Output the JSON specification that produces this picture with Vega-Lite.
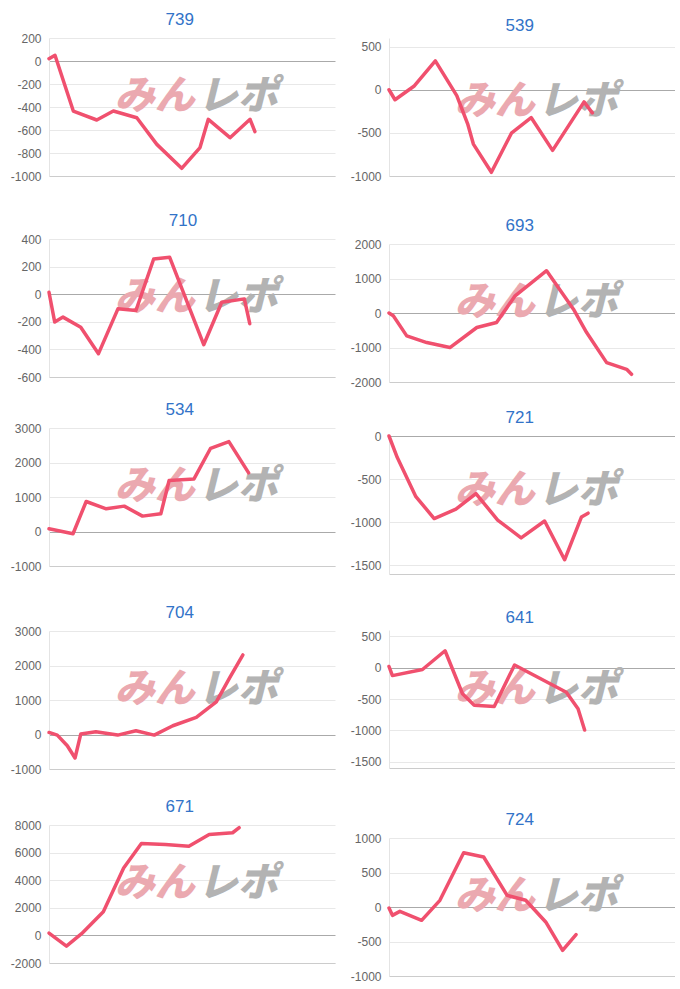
{
  "$schema": "https://vega.github.io/schema/vega-lite/v6.json",
  "padding": {"left": 10, "top": 11, "right": 0, "bottom": 0},
  "background": "white",
  "config": {
    "view": {"stroke": null},
    "font": "Liberation Sans",
    "title": {"fontSize": 17, "fontWeight": "normal", "color": "#3273c8", "font": "Liberation Sans", "offset": 3, "anchor": "middle", "frame": "bounds", "dx": 7},
    "axisY": {"labelFontSize": 12, "labelColor": "#666666", "labelFont": "Liberation Sans", "labelPadding": 8, "labelOverlap": false, "labelExpr": "'' + datum.value", "ticks": false, "domainColor": "#e4e4e4", "grid": true, "tickCount": 20, "title": null},
    "axisX": {"labels": false, "ticks": false, "grid": false, "domainColor": "#cccccc", "title": null},
    "line": {"color": "#f0506e", "strokeWidth": 3.5, "strokeCap": "round", "strokeJoin": "round"},
    "text": {"font": "Noto Sans CJK JP", "fontSize": 40, "fontWeight": 900, "fontStyle": "italic", "baseline": "middle"}
  },
  "datasets": {
    "p739": [{"x":0,"v":20},{"x":2.1,"v":50},{"x":8.5,"v":-435},{"x":16.7,"v":-513},{"x":22.5,"v":-435},{"x":30.7,"v":-493},{"x":37.7,"v":-725},{"x":46.4,"v":-933},{"x":52.8,"v":-753},{"x":55.7,"v":-507},{"x":63.3,"v":-667},{"x":70.3,"v":-507},{"x":72.0,"v":-614}],
    "p539": [{"x":0,"v":0},{"x":2.1,"v":-116},{"x":8.7,"v":40},{"x":16.2,"v":335},{"x":23.7,"v":-69},{"x":27.5,"v":-395},{"x":29.5,"v":-630},{"x":35.8,"v":-957},{"x":42.8,"v":-504},{"x":49.7,"v":-322},{"x":57.2,"v":-703},{"x":68.2,"v":-141},{"x":71.1,"v":-268}],
    "p710": [{"x":0,"v":14},{"x":2.0,"v":-202},{"x":4.9,"v":-166},{"x":11.1,"v":-239},{"x":17.3,"v":-431},{"x":24.1,"v":-106},{"x":30.4,"v":-118},{"x":36.6,"v":255},{"x":42.2,"v":267},{"x":54.1,"v":-366},{"x":60.4,"v":-58},{"x":68.3,"v":-34},{"x":70.2,"v":-214}],
    "p693": [{"x":0,"v":0},{"x":1.5,"v":-82},{"x":6.2,"v":-663},{"x":13.2,"v":-857},{"x":21.3,"v":-1002},{"x":30.7,"v":-421},{"x":37.6,"v":-276},{"x":44.1,"v":499},{"x":55.1,"v":1225},{"x":64.5,"v":111},{"x":69.1,"v":-567},{"x":76.1,"v":-1438},{"x":83.1,"v":-1632},{"x":84.8,"v":-1777}],
    "p534": [{"x":0,"v":80},{"x":8.4,"v":-65},{"x":13.0,"v":870},{"x":20.0,"v":658},{"x":26.3,"v":735},{"x":32.7,"v":446},{"x":39.1,"v":513},{"x":42.0,"v":1477},{"x":50.7,"v":1525},{"x":56.5,"v":2412},{"x":62.9,"v":2605},{"x":69.8,"v":1699}],
    "p721": [{"x":0,"v":0},{"x":2.9,"v":-250},{"x":9.4,"v":-703},{"x":15.8,"v":-957},{"x":23.4,"v":-848},{"x":30.4,"v":-667},{"x":38.0,"v":-975},{"x":46.2,"v":-1181},{"x":54.4,"v":-986},{"x":61.4,"v":-1435},{"x":67.3,"v":-938},{"x":69.6,"v":-895}],
    "p704": [{"x":0,"v":60},{"x":2.9,"v":-17},{"x":6.4,"v":-325},{"x":9.1,"v":-682},{"x":11.1,"v":12},{"x":16.4,"v":80},{"x":24.0,"v":-17},{"x":30.4,"v":108},{"x":36.8,"v":-17},{"x":43.3,"v":253},{"x":51.5,"v":494},{"x":58.5,"v":947},{"x":63.2,"v":1651},{"x":67.8,"v":2306}],
    "p641": [{"x":0,"v":18},{"x":1.2,"v":-127},{"x":11.7,"v":-30},{"x":19.6,"v":269},{"x":25.7,"v":-416},{"x":29.8,"v":-599},{"x":36.8,"v":-618},{"x":43.9,"v":42},{"x":62.0,"v":-392},{"x":66.1,"v":-657},{"x":68.4,"v":-994}],
    "p671": [{"x":0,"v":171},{"x":6.1,"v":-780},{"x":11.4,"v":122},{"x":19.0,"v":1707},{"x":26.1,"v":4878},{"x":32.3,"v":6659},{"x":40.7,"v":6585},{"x":48.9,"v":6463},{"x":56.0,"v":7317},{"x":64.2,"v":7439},{"x":66.5,"v":7805}],
    "p724": [{"x":0,"v":-14},{"x":1.2,"v":-121},{"x":3.8,"v":-63},{"x":11.4,"v":-193},{"x":17.8,"v":97},{"x":26.1,"v":787},{"x":33.1,"v":725},{"x":41.3,"v":169},{"x":47.8,"v":97},{"x":54.8,"v":-217},{"x":60.7,"v":-628},{"x":65.4,"v":-401}],
    "one": [{}]
  },
  "spacing": 15,
  "align": "none",
  "hconcat": [
    {
      "spacing": 18,
      "vconcat": [
        {
          "title": {"text": "739"},
          "width": 286, "height": 138,
          "layer": [
            {"data": {"name": "one"}, "mark": {"type": "text", "text": "みん", "align": "right", "color": "#eba9b0"}, "encoding": {"x": {"datum": 51, "type": "quantitative"}, "y": {"datum": -314, "type": "quantitative"}}},
            {"data": {"name": "one"}, "mark": {"type": "text", "text": "レポ", "align": "left", "color": "#b3b3b3"}, "encoding": {"x": {"datum": 52, "type": "quantitative"}, "y": {"datum": -314, "type": "quantitative"}}},
            {"data": {"name": "p739"}, "mark": {"type": "line"}, "encoding": {
              "x": {"field": "x", "type": "quantitative", "scale": {"domain": [0, 100]}, "axis": {"minExtent": 18, "maxExtent": 18}},
              "y": {"field": "v", "type": "quantitative", "scale": {"domain": [-1000, 200]}, "axis": {"values": [-1000, -800, -600, -400, -200, 0, 200], "tickCount": 20, "gridColor": {"condition": {"test": "datum.value === 0", "value": "#aaaaaa"}, "value": "#e8e8e8"}}}}}
          ]
        },
        {
          "title": {"text": "710"},
          "width": 286, "height": 138,
          "layer": [
            {"data": {"name": "one"}, "mark": {"type": "text", "text": "みん", "align": "right", "color": "#eba9b0"}, "encoding": {"x": {"datum": 51, "type": "quantitative"}, "y": {"datum": -28, "type": "quantitative"}}},
            {"data": {"name": "one"}, "mark": {"type": "text", "text": "レポ", "align": "left", "color": "#b3b3b3"}, "encoding": {"x": {"datum": 52, "type": "quantitative"}, "y": {"datum": -28, "type": "quantitative"}}},
            {"data": {"name": "p710"}, "mark": {"type": "line"}, "encoding": {
              "x": {"field": "x", "type": "quantitative", "scale": {"domain": [0, 100]}, "axis": {"minExtent": 6, "maxExtent": 6}},
              "y": {"field": "v", "type": "quantitative", "scale": {"domain": [-600, 400]}, "axis": {"values": [-600, -400, -200, 0, 200, 400], "tickCount": 20, "gridColor": {"condition": {"test": "datum.value === 0", "value": "#aaaaaa"}, "value": "#e8e8e8"}}}}}
          ]
        },
        {
          "title": {"text": "534"},
          "width": 286, "height": 138,
          "layer": [
            {"data": {"name": "one"}, "mark": {"type": "text", "text": "みん", "align": "right", "color": "#eba9b0"}, "encoding": {"x": {"datum": 51, "type": "quantitative"}, "y": {"datum": 1288, "type": "quantitative"}}},
            {"data": {"name": "one"}, "mark": {"type": "text", "text": "レポ", "align": "left", "color": "#b3b3b3"}, "encoding": {"x": {"datum": 52, "type": "quantitative"}, "y": {"datum": 1288, "type": "quantitative"}}},
            {"data": {"name": "p534"}, "mark": {"type": "line"}, "encoding": {
              "x": {"field": "x", "type": "quantitative", "scale": {"domain": [0, 100]}, "axis": {"minExtent": 20, "maxExtent": 20}},
              "y": {"field": "v", "type": "quantitative", "scale": {"domain": [-1000, 3000]}, "axis": {"values": [-1000, 0, 1000, 2000, 3000], "tickCount": 20, "gridColor": {"condition": {"test": "datum.value === 0", "value": "#aaaaaa"}, "value": "#e8e8e8"}}}}}
          ]
        },
        {
          "title": {"text": "704"},
          "width": 286, "height": 138,
          "layer": [
            {"data": {"name": "one"}, "mark": {"type": "text", "text": "みん", "align": "right", "color": "#eba9b0"}, "encoding": {"x": {"datum": 51, "type": "quantitative"}, "y": {"datum": 1288, "type": "quantitative"}}},
            {"data": {"name": "one"}, "mark": {"type": "text", "text": "レポ", "align": "left", "color": "#b3b3b3"}, "encoding": {"x": {"datum": 52, "type": "quantitative"}, "y": {"datum": 1288, "type": "quantitative"}}},
            {"data": {"name": "p704"}, "mark": {"type": "line"}, "encoding": {
              "x": {"field": "x", "type": "quantitative", "scale": {"domain": [0, 100]}, "axis": {"minExtent": 11, "maxExtent": 11}},
              "y": {"field": "v", "type": "quantitative", "scale": {"domain": [-1000, 3000]}, "axis": {"values": [-1000, 0, 1000, 2000, 3000], "tickCount": 20, "gridColor": {"condition": {"test": "datum.value === 0", "value": "#aaaaaa"}, "value": "#e8e8e8"}}}}}
          ]
        },
        {
          "title": {"text": "671"},
          "width": 286, "height": 138,
          "layer": [
            {"data": {"name": "one"}, "mark": {"type": "text", "text": "みん", "align": "right", "color": "#eba9b0"}, "encoding": {"x": {"datum": 51, "type": "quantitative"}, "y": {"datum": 3720, "type": "quantitative"}}},
            {"data": {"name": "one"}, "mark": {"type": "text", "text": "レポ", "align": "left", "color": "#b3b3b3"}, "encoding": {"x": {"datum": 52, "type": "quantitative"}, "y": {"datum": 3720, "type": "quantitative"}}},
            {"data": {"name": "p671"}, "mark": {"type": "line"}, "encoding": {
              "x": {"field": "x", "type": "quantitative", "scale": {"domain": [0, 100]}, "axis": {"minExtent": 3, "maxExtent": 3}},
              "y": {"field": "v", "type": "quantitative", "scale": {"domain": [-2000, 8000]}, "axis": {"values": [-2000, 0, 2000, 4000, 6000, 8000], "tickCount": 20, "gridColor": {"condition": {"test": "datum.value === 0", "value": "#aaaaaa"}, "value": "#e8e8e8"}}}}}
          ]
        }
      ]
    },
    {
      "spacing": 20,
      "vconcat": [
        {
          "title": {"text": "539"},
          "width": 286, "height": 138,
          "layer": [
            {"data": {"name": "one"}, "mark": {"type": "text", "text": "みん", "align": "right", "color": "#eba9b0"}, "encoding": {"x": {"datum": 51, "type": "quantitative"}, "y": {"datum": -142, "type": "quantitative"}}},
            {"data": {"name": "one"}, "mark": {"type": "text", "text": "レポ", "align": "left", "color": "#b3b3b3"}, "encoding": {"x": {"datum": 52, "type": "quantitative"}, "y": {"datum": -142, "type": "quantitative"}}},
            {"data": {"name": "p539"}, "mark": {"type": "line"}, "encoding": {
              "x": {"field": "x", "type": "quantitative", "scale": {"domain": [0, 100]}, "axis": {"minExtent": 21, "maxExtent": 21}},
              "y": {"field": "v", "type": "quantitative", "scale": {"domain": [-1000, 500]}, "axis": {"values": [-1000, -500, 0, 500], "tickCount": 20, "gridColor": {"condition": {"test": "datum.value === 0", "value": "#aaaaaa"}, "value": "#e8e8e8"}}}}}
          ]
        },
        {
          "title": {"text": "693"},
          "width": 286, "height": 138,
          "layer": [
            {"data": {"name": "one"}, "mark": {"type": "text", "text": "みん", "align": "right", "color": "#eba9b0"}, "encoding": {"x": {"datum": 51, "type": "quantitative"}, "y": {"datum": 288, "type": "quantitative"}}},
            {"data": {"name": "one"}, "mark": {"type": "text", "text": "レポ", "align": "left", "color": "#b3b3b3"}, "encoding": {"x": {"datum": 52, "type": "quantitative"}, "y": {"datum": 288, "type": "quantitative"}}},
            {"data": {"name": "p693"}, "mark": {"type": "line"}, "encoding": {
              "x": {"field": "x", "type": "quantitative", "scale": {"domain": [0, 100]}, "axis": {"minExtent": 7, "maxExtent": 7}},
              "y": {"field": "v", "type": "quantitative", "scale": {"domain": [-2000, 2000]}, "axis": {"values": [-2000, -1000, 0, 1000, 2000], "tickCount": 20, "gridColor": {"condition": {"test": "datum.value === 0", "value": "#aaaaaa"}, "value": "#e8e8e8"}}}}}
          ]
        },
        {
          "title": {"text": "721"},
          "width": 286, "height": 138,
          "layer": [
            {"data": {"name": "one"}, "mark": {"type": "text", "text": "みん", "align": "right", "color": "#eba9b0"}, "encoding": {"x": {"datum": 51, "type": "quantitative"}, "y": {"datum": -642, "type": "quantitative"}}},
            {"data": {"name": "one"}, "mark": {"type": "text", "text": "レポ", "align": "left", "color": "#b3b3b3"}, "encoding": {"x": {"datum": 52, "type": "quantitative"}, "y": {"datum": -642, "type": "quantitative"}}},
            {"data": {"name": "p721"}, "mark": {"type": "line"}, "encoding": {
              "x": {"field": "x", "type": "quantitative", "scale": {"domain": [0, 100]}, "axis": {"minExtent": 15, "maxExtent": 15}},
              "y": {"field": "v", "type": "quantitative", "scale": {"domain": [-1500, 0]}, "axis": {"values": [-1500, -1000, -500, 0], "tickCount": 20, "gridColor": {"condition": {"test": "datum.value === 0", "value": "#aaaaaa"}, "value": "#e8e8e8"}}}}}
          ]
        },
        {
          "title": {"text": "641"},
          "width": 286, "height": 138,
          "layer": [
            {"data": {"name": "one"}, "mark": {"type": "text", "text": "みん", "align": "right", "color": "#eba9b0"}, "encoding": {"x": {"datum": 51, "type": "quantitative"}, "y": {"datum": -356, "type": "quantitative"}}},
            {"data": {"name": "one"}, "mark": {"type": "text", "text": "レポ", "align": "left", "color": "#b3b3b3"}, "encoding": {"x": {"datum": 52, "type": "quantitative"}, "y": {"datum": -356, "type": "quantitative"}}},
            {"data": {"name": "p641"}, "mark": {"type": "line"}, "encoding": {
              "x": {"field": "x", "type": "quantitative", "scale": {"domain": [0, 100]}, "axis": {"minExtent": 23, "maxExtent": 23}},
              "y": {"field": "v", "type": "quantitative", "scale": {"domain": [-1500, 500]}, "axis": {"values": [-1500, -1000, -500, 0, 500], "tickCount": 20, "gridColor": {"condition": {"test": "datum.value === 0", "value": "#aaaaaa"}, "value": "#e8e8e8"}}}}}
          ]
        },
        {
          "title": {"text": "724"},
          "width": 286, "height": 138,
          "layer": [
            {"data": {"name": "one"}, "mark": {"type": "text", "text": "みん", "align": "right", "color": "#eba9b0"}, "encoding": {"x": {"datum": 51, "type": "quantitative"}, "y": {"datum": 144, "type": "quantitative"}}},
            {"data": {"name": "one"}, "mark": {"type": "text", "text": "レポ", "align": "left", "color": "#b3b3b3"}, "encoding": {"x": {"datum": 52, "type": "quantitative"}, "y": {"datum": 144, "type": "quantitative"}}},
            {"data": {"name": "p724"}, "mark": {"type": "line"}, "encoding": {
              "x": {"field": "x", "type": "quantitative", "scale": {"domain": [0, 100]}, "axis": {"minExtent": 3, "maxExtent": 3}},
              "y": {"field": "v", "type": "quantitative", "scale": {"domain": [-1000, 1000]}, "axis": {"values": [-1000, -500, 0, 500, 1000], "tickCount": 20, "gridColor": {"condition": {"test": "datum.value === 0", "value": "#aaaaaa"}, "value": "#e8e8e8"}}}}}
          ]
        }
      ]
    }
  ]
}
